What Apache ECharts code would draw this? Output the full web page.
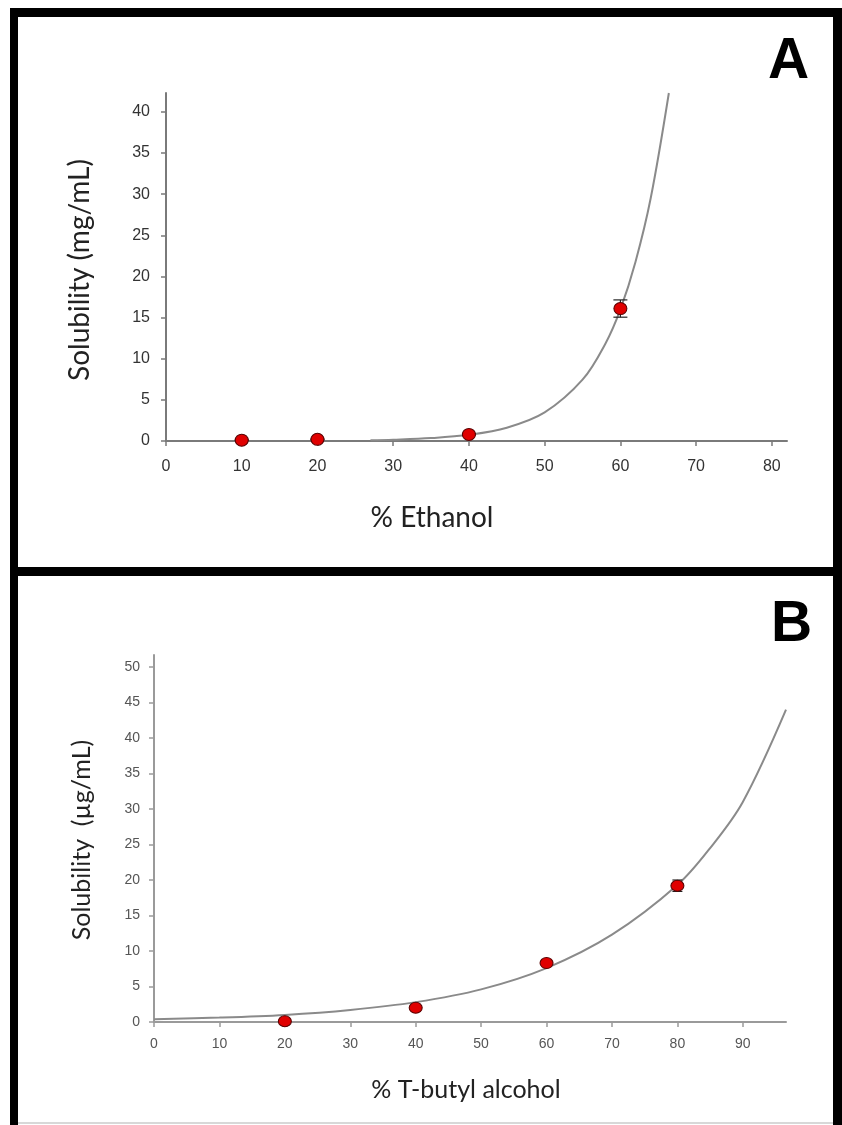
<!DOCTYPE html>
<html>
<head>
<meta charset="utf-8">
<script src="https://cdn.jsdelivr.net/npm/echarts@6/dist/echarts.min.js"></script>
<style>
  html, body { margin: 0; padding: 0; background: #fff; }
  #chart { width: 842px; height: 1125px; }
</style>
</head>
<body>
<div id="chart"></div>
<script>
// panel A: solubility vs % ethanol
const ethanolX = [10, 20, 40, 60]
const ethanolY = [0.1, 0.2, 0.8, 16.1]
const ethanolErr = [0.05, 0.05, 0.1, 1.05]
// fitted curve
const ethanolFitX = [27, 30, 35, 40, 45, 50, 55, 58, 60, 62, 64, 66.4]
const ethanolFitY = [0.1, 0.16, 0.35, 0.75, 1.61, 3.47, 7.45, 11.8, 16.0, 21.8, 29.5, 42.3]
const ethanolXTicks = [0, 10, 20, 30, 40, 50, 60, 70, 80]
const ethanolYTicks = [0, 5, 10, 15, 20, 25, 30, 35, 40]

// panel B: solubility vs % T-butyl alcohol
const butylX = [20, 40, 60, 80]
const butylY = [0.1, 2.0, 8.3, 19.2]
const butylErr = [0.1, 0.2, 0.3, 0.8]
const butylFitX = [0, 10, 20, 30, 40, 50, 60, 70, 80, 85, 90, 96.6]
const butylFitY = [0.4, 0.62, 1.0, 1.7, 2.8, 4.6, 7.6, 12.3, 19.3, 24.5, 31, 44]
const butylXTicks = [0, 10, 20, 30, 40, 50, 60, 70, 80, 90]
const butylYTicks = [0, 5, 10, 15, 20, 25, 30, 35, 40, 45, 50]

const zip = (xs, ys) => xs.map((x, i) => [x, ys[i]])
const errData = (xs, ys, es) => xs.map((x, i) => [x, ys[i] - es[i], ys[i] + es[i]])

const LABEL_FONT = 'Liberation Sans, Arial, sans-serif'
const TITLE_FONT = 'Lato, Open Sans, sans-serif'

function axisStyle(color, ticks, labelColor, fontSize, margin) {
  return {
    axisLine: { onZero: false, lineStyle: { color: color, width: 2 } },
    axisTick: { show: true, length: 5, customValues: ticks, lineStyle: { color: color, width: 1.5 } },
    axisLabel: { customValues: ticks, color: labelColor, fontSize: fontSize, fontFamily: LABEL_FONT, margin: margin },
    splitLine: { show: false },
  }
}

function errorBar(capW) {
  return function (params, api) {
    const lo = api.coord([api.value(0), api.value(1)])
    const hi = api.coord([api.value(0), api.value(2)])
    const st = { stroke: '#222', lineWidth: 1.2 }
    return {
      type: 'group',
      children: [
        { type: 'line', shape: { x1: lo[0], y1: lo[1], x2: hi[0], y2: hi[1] }, style: st },
        { type: 'line', shape: { x1: lo[0] - capW, y1: lo[1], x2: lo[0] + capW, y2: lo[1] }, style: st },
        { type: 'line', shape: { x1: hi[0] - capW, y1: hi[1], x2: hi[0] + capW, y2: hi[1] }, style: st },
      ],
    }
  }
}

const chart = echarts.init(document.getElementById('chart'), null, { renderer: 'canvas' })

const option = {
  backgroundColor: '#fff',
  animation: false,
  grid: [
    { left: 166, top: 93, width: 621, height: 348 },
    { left: 154, top: 655, width: 632, height: 367 },
  ],
  xAxis: [
    Object.assign({ type: 'value', gridIndex: 0, min: 0, max: 82 }, axisStyle('#7a7a7a', ethanolXTicks, '#333', 16, 18)),
    Object.assign({ type: 'value', gridIndex: 1, min: 0, max: 96.6 }, axisStyle('#9a9a9a', butylXTicks, '#555', 14, 15)),
  ],
  yAxis: [
    Object.assign({ type: 'value', gridIndex: 0, min: 0, max: 42.3 }, axisStyle('#7a7a7a', ethanolYTicks, '#333', 16, 16)),
    Object.assign({ type: 'value', gridIndex: 1, min: 0, max: 51.7 }, axisStyle('#9a9a9a', butylYTicks, '#555', 14, 14)),
  ],
  series: [
    {
      type: 'line', xAxisIndex: 0, yAxisIndex: 0,
      data: zip(ethanolFitX, ethanolFitY),
      smooth: 0.35, showSymbol: false,
      lineStyle: { color: '#8a8a8a', width: 2 }, z: 2,
    },
    {
      type: 'custom', xAxisIndex: 0, yAxisIndex: 0,
      data: errData(ethanolX, ethanolY, ethanolErr),
      renderItem: errorBar(7), z: 3,
    },
    {
      type: 'scatter', xAxisIndex: 0, yAxisIndex: 0,
      data: zip(ethanolX, ethanolY),
      symbolSize: [13, 12],
      itemStyle: { color: '#e00000', borderColor: '#5a0000', borderWidth: 1, opacity: 1 },
      z: 4,
    },
    {
      type: 'line', xAxisIndex: 1, yAxisIndex: 1,
      data: zip(butylFitX, butylFitY),
      smooth: 0.35, showSymbol: false,
      lineStyle: { color: '#8a8a8a', width: 2 }, z: 2,
    },
    {
      type: 'custom', xAxisIndex: 1, yAxisIndex: 1,
      data: errData(butylX, butylY, butylErr),
      renderItem: errorBar(5), z: 3,
    },
    {
      type: 'scatter', xAxisIndex: 1, yAxisIndex: 1,
      data: zip(butylX, butylY),
      symbolSize: [13, 11],
      itemStyle: { color: '#e00000', borderColor: '#5a0000', borderWidth: 1, opacity: 1 },
      z: 4,
    },
  ],
  graphic: [
    // black frames round the two panels
    { type: 'rect', shape: { x: 10, y: 8, width: 832, height: 9 }, style: { fill: '#000' }, z: 10 },
    { type: 'rect', shape: { x: 10, y: 8, width: 8, height: 1117 }, style: { fill: '#000' }, z: 10 },
    { type: 'rect', shape: { x: 833, y: 8, width: 9, height: 1117 }, style: { fill: '#000' }, z: 10 },
    { type: 'rect', shape: { x: 10, y: 567, width: 832, height: 9 }, style: { fill: '#000' }, z: 10 },
    { type: 'rect', shape: { x: 18, y: 1122, width: 815, height: 2 }, style: { fill: '#d8d8d8' }, z: 10 },
    // panel letters
    { type: 'text', left: 768, top: 34, style: { text: 'A', font: 'bold 57px Liberation Sans, Arial, sans-serif', fill: '#000' } },
    { type: 'text', left: 771, top: 597, style: { text: 'B', font: 'bold 57px Liberation Sans, Arial, sans-serif', fill: '#000' } },
    // axis titles
    {
      type: 'text', x: 80, y: 270, rotation: Math.PI / 2,
      style: { text: 'Solubility (mg/mL)', font: '28px ' + TITLE_FONT, fill: '#222', align: 'center', verticalAlign: 'middle' },
    },
    {
      type: 'text', x: 432, y: 518,
      style: { text: '% Ethanol', font: '28px ' + TITLE_FONT, fill: '#222', align: 'center', verticalAlign: 'middle' },
    },
    {
      type: 'text', x: 82, y: 840, rotation: Math.PI / 2,
      style: { text: 'Solubility  (\u00b5g/mL)', font: '25px ' + TITLE_FONT, fill: '#222', align: 'center', verticalAlign: 'middle' },
    },
    {
      type: 'text', x: 466, y: 1090,
      style: { text: '% T-butyl alcohol', font: '25px ' + TITLE_FONT, fill: '#222', align: 'center', verticalAlign: 'middle' },
    },
  ],
}

chart.setOption(option)
</script>
</body>
</html>
